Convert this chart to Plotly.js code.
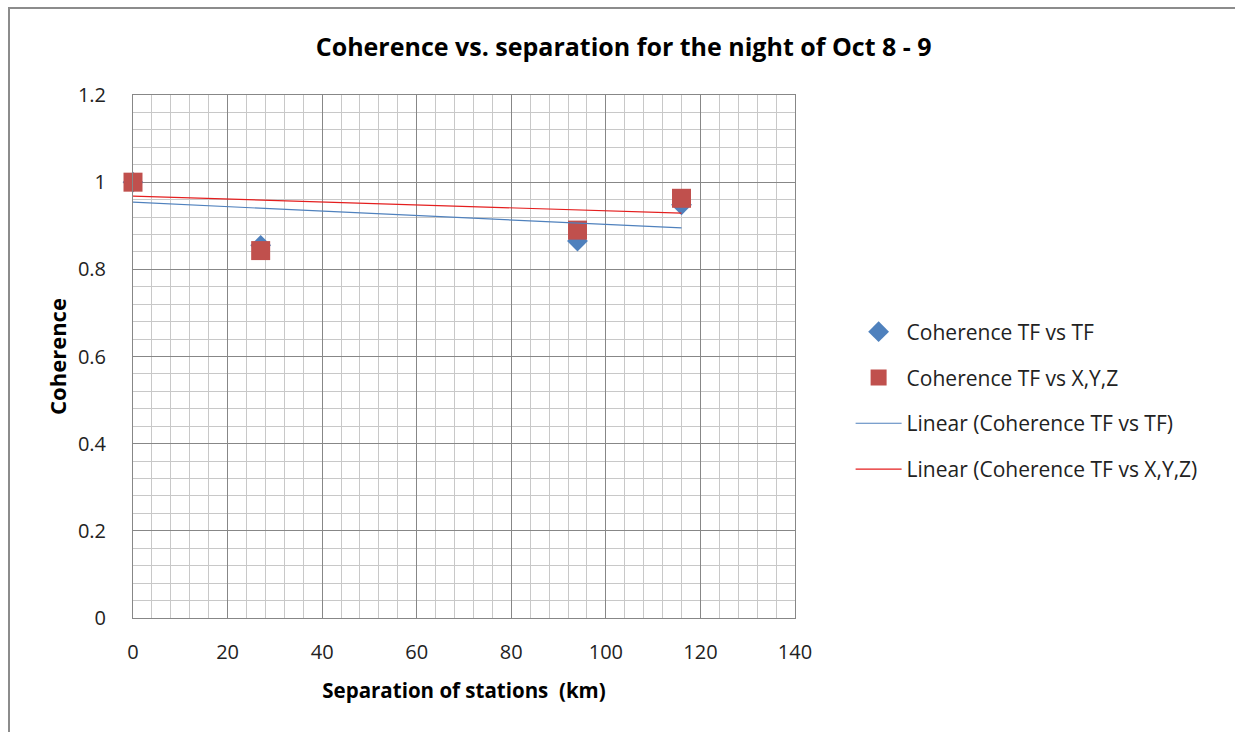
<!DOCTYPE html>
<html>
<head>
<meta charset="utf-8">
<script src="https://cdn.plot.ly/plotly-3.0.1.min.js"></script>
<style>
html,body{margin:0;padding:0;background:#fff;overflow:hidden;}
#frame{position:absolute;left:8px;top:7px;width:1240px;height:740px;border:2px solid #8c8c8c;box-sizing:border-box;}
#chart{position:absolute;left:0;top:0;width:1235px;height:732px;}
</style>
</head>
<body>
<div id="frame"></div>
<div id="chart"></div>
<script>
// Data
const separationKm = [0, 27, 94, 116];
const coherenceTFvsTF = [1.0, 0.855, 0.865, 0.948];
const coherenceTFvsXYZ = [1.0, 0.843, 0.89, 0.963];
// Trendline endpoints as drawn in the picture
const trendX = [0, 116];
const trendTFvsTF = [0.954, 0.895];
const trendTFvsXYZ = [0.968, 0.929];

const seriesNames = [
  'Coherence TF vs TF',
  'Coherence TF vs X,Y,Z',
  'Linear (Coherence TF vs TF)',
  'Linear (Coherence TF vs X,Y,Z)'
];

const FONT = '"Open Sans", Lato, sans-serif';

const traces = [
  {x: separationKm, y: coherenceTFvsTF, type: 'scatter', mode: 'markers', name: seriesNames[0],
   legendgroup: 'a', cliponaxis: false, marker: {symbol: 'diamond', size: 16, color: '#4F81BD'}},
  {x: separationKm, y: coherenceTFvsXYZ, type: 'scatter', mode: 'markers', name: seriesNames[1],
   legendgroup: 'b', cliponaxis: false, marker: {symbol: 'square', size: 19, color: '#C0504D'}},
  {x: trendX, y: trendTFvsTF, type: 'scatter', mode: 'lines', name: seriesNames[2],
   legendgroup: 'c', line: {color: '#4F81BD', width: 1.2}},
  {x: trendX, y: trendTFvsXYZ, type: 'scatter', mode: 'lines', name: seriesNames[3],
   legendgroup: 'd', line: {color: '#E41E1E', width: 1.2}}
];

const layout = {
  width: 1235, height: 732,
  paper_bgcolor: 'rgba(0,0,0,0)', plot_bgcolor: '#fff',
  margin: {l: 133, r: 440, t: 95, b: 114},
  font: {family: FONT, size: 20, color: '#000'},
  title: {text: '<b>Coherence vs. separation for the night of Oct 8 - 9</b>', x: 0.505, xref: 'container', xanchor: 'center',
          y: 1, yref: 'paper', yanchor: 'bottom', pad: {b: 39},
          font: {family: FONT, size: 25, color: '#000'}},
  xaxis: {range: [0, 140], dtick: 20, tick0: 0, showgrid: true, gridcolor: '#878787', gridwidth: 1,
          minor: {dtick: 4, showgrid: true, gridcolor: '#c8c8c8', gridwidth: 1},
          showline: true, linecolor: '#878787', linewidth: 1, mirror: true, zeroline: false,
          ticks: '', ticklabelstandoff: 16, tickfont: {family: FONT, size: 20, color: '#222'},
          title: {text: '<b>Separation of stations  (km)</b>', standoff: 19, font: {family: FONT, size: 20.5}}},
  yaxis: {range: [0, 1.2], dtick: 0.2, tick0: 0, showgrid: true, gridcolor: '#878787', gridwidth: 1,
          minor: {dtick: 0.04, showgrid: true, gridcolor: '#c8c8c8', gridwidth: 1},
          showline: true, linecolor: '#878787', linewidth: 1, mirror: true, zeroline: false,
          ticks: '', ticklabelstandoff: 22, tickfont: {family: FONT, size: 20, color: '#222'},
          title: {text: '<b>Coherence</b>', standoff: 5, font: {family: FONT, size: 22}}},
  showlegend: true,
  legend: {x: 1.084, xanchor: 'left', y: 0.586, yanchor: 'top', traceorder: 'grouped', tracegroupgap: 15.5,
           font: {family: FONT, size: 21, color: '#222'}, bgcolor: 'rgba(0,0,0,0)', itemwidth: 46}
};

Plotly.newPlot('chart', traces, layout, {displayModeBar: false, staticPlot: true});
</script>
</body>
</html>
